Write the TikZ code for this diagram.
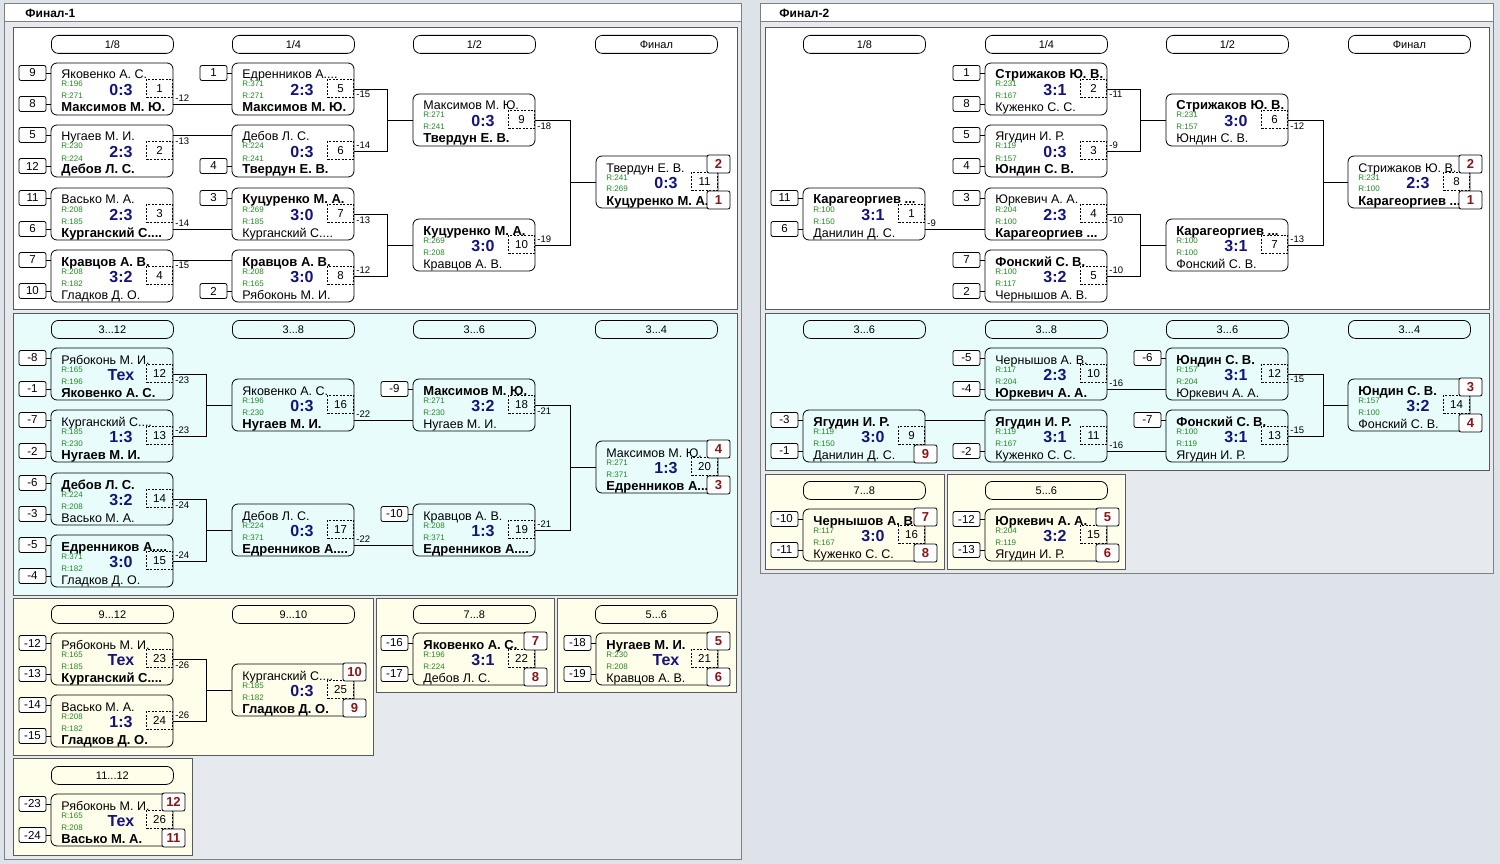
\documentclass[tikz,border=0pt]{standalone}
\usepackage{fontspec}
\setmainfont{Liberation Sans}

\definecolor{bgc}{RGB}{222,226,233}
\definecolor{frmc}{RGB}{230,233,238}
\definecolor{cyanp}{RGB}{232,252,252}
\definecolor{yelp}{RGB}{255,254,234}
\definecolor{scblue}{RGB}{20,20,125}
\definecolor{rtgreen}{RGB}{30,140,30}
\definecolor{plred}{RGB}{140,20,20}

% winner's name
\newcommand{\wn}[1]{{\fontsize{13}{14}\selectfont\bfseries #1}}
% match box: name, x, y, top player, bottom player, rating 1, rating 2, score, number
\newcommand{\mtch}[9]{%
  \node[mbox] (#1) at (#2,#3) {};
  \node[nm] (#1n1) at (#2+10,#3+16) {#4};
  \node[rt] (#1r1) at (#2+10,#3+24) {R:#6};
  \node[sc] (#1sc) at (#2+70,#3+32.5) {#8};
  \node[rt] (#1r2) at (#2+10,#3+36) {R:#7};
  \node[nm] (#1n2) at (#2+10,#3+49) {#5};
  \node[nbox] (#1nb) at (#2+122,#3+16) {#9};
  \coordinate (#1-a) at (#2,#3+10);
  \coordinate (#1-b) at (#2,#3+41);
  \coordinate (#1-t) at (#2+122.5,#3+8);
  \coordinate (#1-u) at (#2+122.5,#3+44);
}
\newcommand{\seedbox}[3]{%
  \node[sd] (#1s#2) at ([xshift=-5pt]#1-#2) {#3};
  \draw (#1s#2) -- (#1-#2);
}
\newcommand{\placebox}[3]{\node[pl] (#1p#2) at (#1-#2) {#3};}

\begin{document}
\begin{tikzpicture}[x=1pt, y=-1pt, line width=0.8pt,
    mbox/.style={draw, rounded corners=6pt, anchor=north west, minimum width=122pt, minimum height=52pt, inner sep=0pt, outer sep=0pt},
    nm/.style={anchor=base west, inner sep=0pt, font=\fontsize{12.5}{14}\selectfont},
    rt/.style={anchor=base west, inner sep=0pt, text=rtgreen, font=\fontsize{8}{9}\selectfont},
    sc/.style={anchor=base, inner sep=0pt, text=scblue, font=\fontsize{16}{18}\selectfont\bfseries},
    nbox/.style={draw, dash pattern=on 2pt off 1.5pt, anchor=north east, minimum width=26pt, minimum height=18pt, inner sep=0pt, font=\fontsize{11.5}{13}\selectfont},
    sd/.style={draw, fill=white, rounded corners=2pt, anchor=east, minimum width=27pt, minimum height=15pt, inner sep=0pt, outer sep=0pt, font=\fontsize{11.5}{13}\selectfont},
    pl/.style={draw, fill=white, rounded corners=2pt, minimum width=23pt, minimum height=18pt, inner sep=0pt, text=plred, font=\fontsize{13}{14}\selectfont\bfseries},
    hd/.style={draw, rounded corners=7pt, anchor=north west, minimum width=122pt, minimum height=18pt, inner sep=0pt, font=\fontsize{11}{12}\selectfont},
    lbl/.style={inner sep=2pt, font=\fontsize{9.5}{11}\selectfont},
    pnl/.style={draw=black!65, line width=1pt},
    frm/.style={draw=black!50, fill=frmc, line width=1pt},
    ttl/.style={anchor=west, inner sep=0pt, font=\fontsize{12}{14}\selectfont\bfseries}]
  \useasboundingbox (0,0) rectangle (1500,864);
  \fill[bgc] (0,0) rectangle (1500,864);

  % Финал-1
  \draw[frm] (4,4) rectangle (741,859);
  \draw[frm, fill=white] (4,4) rectangle (741,22);
  \node[ttl] (t1) at (25,13.5) {Финал-1};
  \draw[pnl, fill=white] (13,28) rectangle (737,309);
  \draw[pnl, fill=cyanp] (13,313) rectangle (737,595);
  \draw[pnl, fill=yelp] (13,598) rectangle (373,755);
  \draw[pnl, fill=yelp] (376,598) rectangle (554,692);
  \draw[pnl, fill=yelp] (557,598) rectangle (736,692);
  \draw[pnl, fill=yelp] (13,758) rectangle (192,855);

  \node[hd] (ha1) at (51,35) {1/8};
  \node[hd] (ha2) at (232,35) {1/4};
  \node[hd] (ha3) at (413,35) {1/2};
  \node[hd] (ha4) at (595,35) {Финал};
  \mtch{a1}{51}{63}{Яковенко А. С.}{\wn{Максимов М. Ю.}}{196}{271}{0:3}{1}
  \mtch{a2}{51}{125}{Нугаев М. И.}{\wn{Дебов Л. С.}}{230}{224}{2:3}{2}
  \mtch{a3}{51}{188}{Васько М. А.}{\wn{Курганский С....}}{208}{185}{2:3}{3}
  \mtch{a4}{51}{250}{\wn{Кравцов А. В.}}{Гладков Д. О.}{208}{182}{3:2}{4}
  \mtch{a5}{232}{63}{Едренников А....}{\wn{Максимов М. Ю.}}{371}{271}{2:3}{5}
  \mtch{a6}{232}{125}{Дебов Л. С.}{\wn{Твердун Е. В.}}{224}{241}{0:3}{6}
  \mtch{a7}{232}{188}{\wn{Куцуренко М. А.}}{Курганский С....}{269}{185}{3:0}{7}
  \mtch{a8}{232}{250}{\wn{Кравцов А. В.}}{Рябоконь М. И.}{208}{165}{3:0}{8}
  \mtch{a9}{413}{94}{Максимов М. Ю.}{\wn{Твердун Е. В.}}{271}{241}{0:3}{9}
  \mtch{a10}{413}{219}{\wn{Куцуренко М. А.}}{Кравцов А. В.}{269}{208}{3:0}{10}
  \mtch{a11}{596}{156}{Твердун Е. В.}{\wn{Куцуренко М. А.}}{241}{269}{0:3}{11}
  \seedbox{a1}{a}{9} \seedbox{a1}{b}{8} \seedbox{a2}{a}{5} \seedbox{a2}{b}{12}
  \seedbox{a3}{a}{11} \seedbox{a3}{b}{6} \seedbox{a4}{a}{7} \seedbox{a4}{b}{10}
  \seedbox{a5}{a}{1} \seedbox{a6}{b}{4} \seedbox{a7}{a}{3} \seedbox{a8}{b}{2}
  \placebox{a11}{t}{2} \placebox{a11}{u}{1}
  \draw (a1.east |- a5-b) node[lbl, above right] (la1) {-12} -- (a5-b);
  \draw (a2.east |- a6-a) node[lbl, below right] (la2) {-13} -- (a6-a);
  \draw (a3.east |- a7-b) node[lbl, above right] (la3) {-14} -- (a7-b);
  \draw (a4.east |- a8-a) node[lbl, below right] (la4) {-15} -- (a8-a);
  \draw (a5.east) node[lbl, below right] (la5) {-15} -- ++(33,0) |- (a9.west);
  \draw (a6.east) node[lbl, above right] (la6) {-14} -- ++(33,0) |- (a9.west);
  \draw (a7.east) node[lbl, below right] (la7) {-13} -- ++(33,0) |- (a10.west);
  \draw (a8.east) node[lbl, above right] (la8) {-12} -- ++(33,0) |- (a10.west);
  \draw (a9.east) node[lbl, below right] (la9) {-18} -- ++(35,0) |- (a11.west);
  \draw (a10.east) node[lbl, above right] (la10) {-19} -- ++(35,0) |- (a11.west);

  \node[hd] (hb1) at (51,320) {3...12};
  \node[hd] (hb2) at (232,320) {3...8};
  \node[hd] (hb3) at (413,320) {3...6};
  \node[hd] (hb4) at (595,320) {3...4};
  \mtch{b12}{51}{348}{Рябоконь М. И.}{\wn{Яковенко А. С.}}{165}{196}{Тех}{12}
  \mtch{b13}{51}{410}{Курганский С....}{\wn{Нугаев М. И.}}{185}{230}{1:3}{13}
  \mtch{b14}{51}{473}{\wn{Дебов Л. С.}}{Васько М. А.}{224}{208}{3:2}{14}
  \mtch{b15}{51}{535}{\wn{Едренников А....}}{Гладков Д. О.}{371}{182}{3:0}{15}
  \mtch{b16}{232}{379}{Яковенко А. С.}{\wn{Нугаев М. И.}}{196}{230}{0:3}{16}
  \mtch{b17}{232}{504}{Дебов Л. С.}{\wn{Едренников А....}}{224}{371}{0:3}{17}
  \mtch{b18}{413}{379}{\wn{Максимов М. Ю.}}{Нугаев М. И.}{271}{230}{3:2}{18}
  \mtch{b19}{413}{504}{Кравцов А. В.}{\wn{Едренников А....}}{208}{371}{1:3}{19}
  \mtch{b20}{596}{441}{Максимов М. Ю.}{\wn{Едренников А....}}{271}{371}{1:3}{20}
  \seedbox{b12}{a}{-8} \seedbox{b12}{b}{-1} \seedbox{b13}{a}{-7} \seedbox{b13}{b}{-2}
  \seedbox{b14}{a}{-6} \seedbox{b14}{b}{-3} \seedbox{b15}{a}{-5} \seedbox{b15}{b}{-4}
  \seedbox{b18}{a}{-9} \seedbox{b19}{a}{-10}
  \placebox{b20}{t}{4} \placebox{b20}{u}{3}
  \draw (b12.east) node[lbl, below right] (lb12) {-23} -- ++(33,0) |- (b16.west);
  \draw (b13.east) node[lbl, above right] (lb13) {-23} -- ++(33,0) |- (b16.west);
  \draw (b14.east) node[lbl, below right] (lb14) {-24} -- ++(33,0) |- (b17.west);
  \draw (b15.east) node[lbl, above right] (lb15) {-24} -- ++(33,0) |- (b17.west);
  \draw (b16.east |- b18-b) node[lbl, above right] (lb16) {-22} -- (b18-b);
  \draw (b17.east |- b19-b) node[lbl, above right] (lb17) {-22} -- (b19-b);
  \draw (b18.east) node[lbl, below right] (lb18) {-21} -- ++(35,0) |- (b20.west);
  \draw (b19.east) node[lbl, above right] (lb19) {-21} -- ++(35,0) |- (b20.west);

  \node[hd] (hc1) at (51,605) {9...12};
  \node[hd] (hc2) at (232,605) {9...10};
  \node[hd] (hc3) at (413,605) {7...8};
  \node[hd] (hc4) at (595,605) {5...6};
  \node[hd] (hc5) at (51,766) {11...12};
  \mtch{c23}{51}{633}{Рябоконь М. И.}{\wn{Курганский С....}}{165}{185}{Тех}{23}
  \mtch{c24}{51}{695}{Васько М. А.}{\wn{Гладков Д. О.}}{208}{182}{1:3}{24}
  \mtch{c25}{232}{664}{Курганский С....}{\wn{Гладков Д. О.}}{185}{182}{0:3}{25}
  \mtch{c26}{51}{794}{Рябоконь М. И.}{\wn{Васько М. А.}}{165}{208}{Тех}{26}
  \mtch{c22}{413}{633}{\wn{Яковенко А. С.}}{Дебов Л. С.}{196}{224}{3:1}{22}
  \mtch{c21}{596}{633}{\wn{Нугаев М. И.}}{Кравцов А. В.}{230}{208}{Тех}{21}
  \seedbox{c23}{a}{-12} \seedbox{c23}{b}{-13} \seedbox{c24}{a}{-14} \seedbox{c24}{b}{-15}
  \seedbox{c26}{a}{-23} \seedbox{c26}{b}{-24} \seedbox{c22}{a}{-16} \seedbox{c22}{b}{-17}
  \seedbox{c21}{a}{-18} \seedbox{c21}{b}{-19}
  \placebox{c25}{t}{10} \placebox{c25}{u}{9} \placebox{c26}{t}{12} \placebox{c26}{u}{11}
  \placebox{c22}{t}{7} \placebox{c22}{u}{8} \placebox{c21}{t}{5} \placebox{c21}{u}{6}
  \draw (c23.east) node[lbl, below right] (lc23) {-26} -- ++(33,0) |- (c25.west);
  \draw (c24.east) node[lbl, above right] (lc24) {-26} -- ++(33,0) |- (c25.west);

  % Финал-2
  \draw[frm] (760,4) rectangle (1493,573);
  \draw[frm, fill=white] (760,4) rectangle (1493,22);
  \node[ttl] (t2) at (779,13.5) {Финал-2};
  \draw[pnl, fill=white] (765,28) rectangle (1489,309);
  \draw[pnl, fill=cyanp] (765,313) rectangle (1489,470);
  \draw[pnl, fill=yelp] (765,474) rectangle (944,569);
  \draw[pnl, fill=yelp] (947,474) rectangle (1125,569);

  \node[hd] (hd1) at (803,35) {1/8};
  \node[hd] (hd2) at (985,35) {1/4};
  \node[hd] (hd3) at (1166,35) {1/2};
  \node[hd] (hd4) at (1348,35) {Финал};
  \mtch{d1}{803}{188}{\wn{Карагеоргиев ...}}{Данилин Д. С.}{100}{150}{3:1}{1}
  \mtch{d2}{985}{63}{\wn{Стрижаков Ю. В.}}{Куженко С. С.}{231}{167}{3:1}{2}
  \mtch{d3}{985}{125}{Ягудин И. Р.}{\wn{Юндин С. В.}}{119}{157}{0:3}{3}
  \mtch{d4}{985}{188}{Юркевич А. А.}{\wn{Карагеоргиев ...}}{204}{100}{2:3}{4}
  \mtch{d5}{985}{250}{\wn{Фонский С. В.}}{Чернышов А. В.}{100}{117}{3:2}{5}
  \mtch{d6}{1166}{94}{\wn{Стрижаков Ю. В.}}{Юндин С. В.}{231}{157}{3:0}{6}
  \mtch{d7}{1166}{219}{\wn{Карагеоргиев ...}}{Фонский С. В.}{100}{100}{3:1}{7}
  \mtch{d8}{1348}{156}{Стрижаков Ю. В.}{\wn{Карагеоргиев ...}}{231}{100}{2:3}{8}
  \seedbox{d1}{a}{11} \seedbox{d1}{b}{6} \seedbox{d2}{a}{1} \seedbox{d2}{b}{8}
  \seedbox{d3}{a}{5} \seedbox{d3}{b}{4} \seedbox{d4}{a}{3} \seedbox{d5}{a}{7} \seedbox{d5}{b}{2}
  \placebox{d8}{t}{2} \placebox{d8}{u}{1}
  \draw (d1.east |- d4-b) node[lbl, above right] (ld1) {-9} -- (d4-b);
  \draw (d2.east) node[lbl, below right] (ld2) {-11} -- ++(33,0) |- (d6.west);
  \draw (d3.east) node[lbl, above right] (ld3) {-9} -- ++(33,0) |- (d6.west);
  \draw (d4.east) node[lbl, below right] (ld4) {-10} -- ++(33,0) |- (d7.west);
  \draw (d5.east) node[lbl, above right] (ld5) {-10} -- ++(33,0) |- (d7.west);
  \draw (d6.east) node[lbl, below right] (ld6) {-12} -- ++(35,0) |- (d8.west);
  \draw (d7.east) node[lbl, above right] (ld7) {-13} -- ++(35,0) |- (d8.west);

  \node[hd] (he1) at (803,320) {3...6};
  \node[hd] (he2) at (985,320) {3...8};
  \node[hd] (he3) at (1166,320) {3...6};
  \node[hd] (he4) at (1348,320) {3...4};
  \mtch{e9}{803}{410}{\wn{Ягудин И. Р.}}{Данилин Д. С.}{119}{150}{3:0}{9}
  \mtch{e10}{985}{348}{Чернышов А. В.}{\wn{Юркевич А. А.}}{117}{204}{2:3}{10}
  \mtch{e11}{985}{410}{\wn{Ягудин И. Р.}}{Куженко С. С.}{119}{167}{3:1}{11}
  \mtch{e12}{1166}{348}{\wn{Юндин С. В.}}{Юркевич А. А.}{157}{204}{3:1}{12}
  \mtch{e13}{1166}{410}{\wn{Фонский С. В.}}{Ягудин И. Р.}{100}{119}{3:1}{13}
  \mtch{e14}{1348}{379}{\wn{Юндин С. В.}}{Фонский С. В.}{157}{100}{3:2}{14}
  \seedbox{e9}{a}{-3} \seedbox{e9}{b}{-1} \seedbox{e10}{a}{-5} \seedbox{e10}{b}{-4}
  \seedbox{e11}{b}{-2} \seedbox{e12}{a}{-6} \seedbox{e13}{a}{-7}
  \placebox{e9}{u}{9} \placebox{e14}{t}{3} \placebox{e14}{u}{4}
  \draw (e9.east |- e11-a) -- (e11-a);
  \draw (e10.east |- e12-b) node[lbl, above right] (le10) {-16} -- (e12-b);
  \draw (e11.east |- e13-b) node[lbl, above right] (le11) {-16} -- (e13-b);
  \draw (e12.east) node[lbl, below right] (le12) {-15} -- ++(35,0) |- (e14.west);
  \draw (e13.east) node[lbl, above right] (le13) {-15} -- ++(35,0) |- (e14.west);

  \node[hd] (hf1) at (803,481) {7...8};
  \node[hd] (hf2) at (985,481) {5...6};
  \mtch{f16}{803}{509}{\wn{Чернышов А. В.}}{Куженко С. С.}{117}{167}{3:0}{16}
  \mtch{f15}{985}{509}{\wn{Юркевич А. А.}}{Ягудин И. Р.}{204}{119}{3:2}{15}
  \seedbox{f16}{a}{-10} \seedbox{f16}{b}{-11} \seedbox{f15}{a}{-12} \seedbox{f15}{b}{-13}
  \placebox{f16}{t}{7} \placebox{f16}{u}{8} \placebox{f15}{t}{5} \placebox{f15}{u}{6}
\end{tikzpicture}
\end{document}
